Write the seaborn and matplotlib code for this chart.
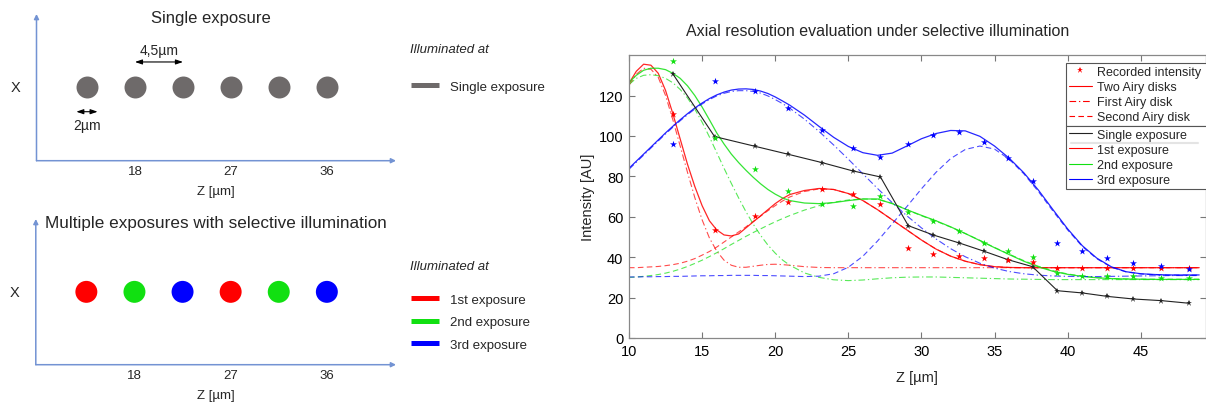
import matplotlib
matplotlib.use("Agg")
import matplotlib.pyplot as plt
from matplotlib.lines import Line2D
import seaborn as sns

# ---------------- data ----------------
# Left diagrams: bead positions along Z (µm) and which exposure illuminates each
bead_z = [13.5, 18, 22.5, 27, 31.5, 36]
bead_row = [0.5, 0.5, 0.5, 0.5, 0.5, 0.5]
bead_exposure = ["1st exposure", "2nd exposure", "3rd exposure",
                 "1st exposure", "2nd exposure", "3rd exposure"]
diagram_ticks = [18, 27, 36]
spacing_arrow = [18, 22.5]
size_arrow = [12.5, 14.5]

# Right chart: measured positions (µm)
meas_z = [13.0, 15.85, 18.6, 20.9, 23.2, 25.3, 27.2, 29.1, 30.8, 32.6,
          34.3, 35.9, 37.6, 39.3, 41.0, 42.7, 44.5, 46.4, 48.3]
single_exposure = [130.7, 99.7, 94.9, 90.9, 86.8, 82.7, 79.7, 55.6, 51.0, 47.0,
                   42.9, 38.8, 35.3, 23.4, 22.3, 20.6, 19.3, 18.5, 17.2]
rec_1st = [110.9, 53.6, 60.6, 67.5, 73.6, 71.5, 66.5, 44.6, 41.7, 40.6,
           39.6, 38.5, 37.8, 34.5, 34.5, 34.5, 34.5, 34.8, 34.8]
rec_2nd = [137.3, 98.8, 83.7, 72.8, 66.5, 65.2, 70.5, 62.5, 57.9, 53.0,
           47.0, 42.9, 39.9, 32.0, 30.5, 30.5, 30.9, 29.5, 29.5]
rec_3rd = [95.9, 127.0, 122.1, 113.9, 103.0, 93.9, 89.6, 95.9, 100.7, 101.8,
           96.9, 88.9, 77.7, 47.0, 42.9, 39.6, 37.0, 35.6, 34.2]

# Fitted curves sampled along Z
curve_z = [10, 10.5, 11, 11.5, 12, 12.5, 13, 13.5, 14, 14.5, 15, 15.5, 16, 16.5,
           17, 17.5, 18, 18.5, 19, 19.5, 20, 20.5, 21, 22, 23, 24, 25, 26, 27, 28,
           29, 30, 31, 32, 33, 34, 35, 36, 37, 38, 39, 40, 41, 42, 43, 44, 45, 46,
           47, 48, 49]
two_1st = [126, 132, 135.5, 135, 131, 122.5, 111, 98.5, 86, 75, 65.5, 58, 53.5, 51,
           50.5, 51.5, 54.5, 57.5, 60.5, 63.5, 66.5, 69, 71, 73, 74, 73.5, 71.5, 68,
           63.5, 58.5, 53.5, 48.5, 44, 40.5, 38, 36.3, 35.3, 34.9, 34.8, 34.8, 34.8,
           34.8, 34.8, 34.8, 34.8, 34.8, 34.8, 34.8, 34.8, 34.8, 34.8]
first_1st = [125, 130.5, 133.5, 133, 129, 120, 108, 95, 82, 69.5, 58.5, 49.5, 43,
             38.5, 36, 35, 35, 35.5, 36, 36.4, 36.5, 36.3, 36, 35.3, 34.9, 34.8,
             34.8, 34.8, 34.8, 34.8, 34.8, 34.8, 34.8, 34.8, 34.8, 34.8, 34.8, 34.8,
             34.8, 34.8, 34.8, 34.8, 34.8, 34.8, 34.8, 34.8, 34.8, 34.8, 34.8, 34.8,
             34.8]
second_1st = [34.8, 34.8, 35, 35.2, 35.4, 35.8, 36.3, 37, 38, 39.3, 41, 42.8, 45,
              47.5, 50, 52.5, 55, 57.7, 60.3, 63, 65.5, 67.8, 69.8, 72.5, 73.8, 73.5,
              71.5, 68, 63.5, 58.5, 53.5, 48.5, 44, 40.5, 38, 36.3, 35.3, 34.9, 34.8,
              34.8, 34.8, 34.8, 34.8, 34.8, 34.8, 34.8, 34.8, 34.8, 34.8, 34.8, 34.8]
two_2nd = [126.5, 130, 132.5, 133.5, 133.5, 132.8, 131, 128.5, 124.8, 120, 114.3,
           108, 101.5, 96, 91, 86.8, 83, 79.5, 76.3, 73.5, 71.2, 69.3, 68, 66.8,
           66.5, 67, 68, 68.8, 68.8, 66.5, 63.5, 60.7, 58, 55, 51.7, 48.2, 44.7,
           41.3, 38, 35.2, 33, 31.5, 30.5, 29.8, 29.4, 29.2, 29.1, 29, 29, 29, 29]
first_2nd = [125.5, 128.5, 130, 130.3, 129.8, 128.5, 126.3, 123, 118.8, 113.3,
             106.8, 99.5, 91.8, 84, 76.5, 69.3, 62.5, 56.3, 50.8, 46, 42, 38.6, 36,
             32.2, 30, 28.8, 28.4, 28.7, 29.3, 29.8, 30.1, 30.2, 30.2, 30, 29.8,
             29.6, 29.4, 29.2, 29.1, 29, 28.9, 28.9, 28.9, 28.9, 28.9, 28.9, 28.9,
             28.9, 28.9, 28.9, 28.9]
second_2nd = [30, 30.2, 30.5, 30.9, 31.4, 32.1, 33, 34.1, 35.4, 36.9, 38.5, 40.3,
              42.2, 44.2, 46.3, 48.3, 50.3, 52.2, 54, 55.8, 57.5, 59.1, 60.6, 63.3,
              65.5, 67.2, 68.3, 68.8, 68.6, 66.7, 63.5, 60.5, 57.8, 54.9, 51.7, 48.3,
              44.8, 41.5, 38.3, 35.5, 33.3, 31.7, 30.6, 29.9, 29.4, 29.2, 29.1, 29.1,
              29.1, 29.1, 29.1]
two_3rd = [84, 87.5, 91, 94.5, 98, 101.5, 104.8, 108, 111, 113.8, 116.3, 118.5,
           120.3, 121.7, 122.7, 123.2, 123.3, 123, 122.2, 121, 119.3, 117.3, 115.2,
           110.3, 104.7, 99.3, 94.8, 91.7, 90.4, 91.5, 95, 98.6, 101.2, 102.7,
           102.5, 99.8, 95, 89, 81.8, 73.2, 63.5, 54, 45.7, 39.5, 35.2, 32.8, 31.8,
           31.4, 31.2, 31.2, 31.2]
first_3rd = [83.5, 87, 90.5, 94, 97.5, 101, 104.3, 107.5, 110.5, 113.3, 115.8, 118,
             119.8, 121.1, 122, 122.4, 122.4, 122, 121.2, 119.8, 118, 116, 113.7,
             108.3, 102.2, 95.5, 88.5, 81.2, 74, 67, 60.5, 54.5, 49, 44.2, 40.2, 37,
             34.6, 32.9, 31.8, 31.1, 30.7, 30.5, 30.4, 30.4, 30.5, 30.6, 30.7, 30.8,
             30.9, 30.9, 30.9]
second_3rd = [30.2, 30.2, 30.3, 30.3, 30.4, 30.4, 30.5, 30.5, 30.6, 30.7, 30.8,
              30.8, 30.9, 30.9, 31, 31, 31, 31, 30.9, 30.9, 30.8, 30.7, 30.6, 30.4,
              30.6, 31.8, 35, 40.5, 48, 56.5, 65, 73.8, 82, 88.8, 93.3, 95, 93.5,
              88.5, 81.3, 72.5, 62.8, 53.5, 45.3, 39.2, 35, 32.7, 31.7, 31.3, 31.1,
              31.1, 31.1]

# ---------------- style ----------------
sns.set_theme(style="white")
plt.rcParams["font.family"] = ["Liberation Sans", "DejaVu Sans"]

W, H = 1206, 406
RED, GREEN, BLUE = "#ff0000", "#11e011", "#0000ff"
GRAY = "#6e6a6a"
ARROW = "#7393d3"
exp_palette = {"1st exposure": RED, "2nd exposure": GREEN, "3rd exposure": BLUE}

fig = plt.figure(figsize=(W / 100, H / 100), dpi=100)


def fx(px):
    return px / W


def fy(py):
    return 1 - py / H


def diagram(ax_rect, title, title_xy, title_ha, title_size, colors_hue,
            legend_entries, legend_title_y, legend_center_y, label_spacing):
    ax = fig.add_axes(ax_rect)
    ax.set_xlim(8.77, 42.47)
    ax.set_ylim(0, 1)
    for s in ax.spines.values():
        s.set_visible(False)
    ax.set_facecolor("none")
    ax.annotate("", xy=(1, 0), xytext=(0, 0), xycoords="axes fraction",
                arrowprops=dict(arrowstyle="-|>", color=ARROW, lw=1.1,
                                mutation_scale=7, shrinkA=0, shrinkB=0))
    ax.annotate("", xy=(0, 1), xytext=(0, 0), xycoords="axes fraction",
                arrowprops=dict(arrowstyle="-|>", color=ARROW, lw=1.1,
                                mutation_scale=7, shrinkA=0, shrinkB=0))
    if colors_hue is None:
        sns.scatterplot(x=bead_z, y=bead_row, color=GRAY, s=250, linewidth=0,
                        ax=ax, legend=False)
    else:
        sns.scatterplot(x=bead_z, y=bead_row, hue=colors_hue, palette=exp_palette,
                        s=250, linewidth=0, ax=ax, legend=False)
    ax.set_xticks(diagram_ticks)
    ax.set_xticklabels([str(t) for t in diagram_ticks], fontsize=9.5)
    ax.set_yticks([])
    ax.tick_params(axis="x", length=0, pad=3)
    ax.set_xlabel("Z [µm]", fontsize=9.5, labelpad=6)
    ax.set_ylabel("X", fontsize=10.5, rotation=0, va="center", ha="center")
    ax.yaxis.set_label_coords(-21 / (ax_rect[2] * W), 0.5)
    fig.text(title_xy[0], title_xy[1], title, fontsize=title_size, ha=title_ha,
             va="center")
    fig.text(fx(410), fy(legend_title_y), "Illuminated at", fontsize=9.5,
             style="italic", va="center", ha="left")
    handles = [Line2D([], [], color=c, lw=3.6, solid_capstyle="butt")
               for _, c in legend_entries]
    labels = [l for l, _ in legend_entries]
    ax.legend(handles, labels, loc="center left",
              bbox_to_anchor=(fx(411.5), fy(legend_center_y)),
              bbox_transform=fig.transFigure, frameon=False, fontsize=9.5,
              handlelength=2.05, handletextpad=0.85, borderpad=0,
              borderaxespad=0, labelspacing=label_spacing)
    return ax


ax_top = diagram([fx(36.5), fy(161.7), fx(396 - 36.5), (161.7 - 15) / H],
                 "Single exposure", (fx(211), fy(18)), "center", 12, None,
                 [("Single exposure", GRAY)], 50, 87.7, 0.8)
# dimension annotations on the single-exposure diagram
arrow_kw = dict(arrowstyle="<|-|>,head_length=0.35,head_width=0.12", color="black",
                lw=0.8, shrinkA=0, shrinkB=0)
ax_top.annotate("", xy=(spacing_arrow[1], 0.673), xytext=(spacing_arrow[0], 0.673),
                arrowprops=arrow_kw)
ax_top.text(sum(spacing_arrow) / 2, 0.755, "4,5µm", ha="center", va="center",
            fontsize=10)
ax_top.annotate("", xy=(size_arrow[1], 0.334), xytext=(size_arrow[0], 0.334),
                arrowprops=arrow_kw)
ax_top.text(sum(size_arrow) / 2, 0.243, "2µm", ha="center", va="center",
            fontsize=10)

diagram([fx(35.8), fy(365.7), fx(396 - 35.8), (365.7 - 220) / H],
        "Multiple exposures with selective illumination", (fx(45), fy(224)), "left",
        12.35, bead_exposure,
        [("1st exposure", RED), ("2nd exposure", GREEN), ("3rd exposure", BLUE)],
        266.7, 323, 0.78)

# ---------------- right chart ----------------
ax = fig.add_axes([fx(629), fy(339), fx(576.5), 283.3 / H])
ax.set_xlim(10, 49.43)
ax.set_ylim(0, 140.2)

DASH = (0, (5, 3))
DASHDOT = (0, (6, 2.5, 1.2, 2.5))
curve_sets = [
    (RED, two_1st, first_1st, second_1st),
    (GREEN, two_2nd, first_2nd, second_2nd),
    (BLUE, two_3rd, first_3rd, second_3rd),
]
for color, two, first, second in curve_sets:
    sns.lineplot(x=curve_z, y=first, color=color, lw=0.8, alpha=0.7,
                 linestyle=DASHDOT, ax=ax, estimator=None, sort=False)
    sns.lineplot(x=curve_z, y=second, color=color, lw=0.8, alpha=0.7,
                 linestyle=DASH, ax=ax, estimator=None, sort=False)
    sns.lineplot(x=curve_z, y=two, color=color, lw=0.9, alpha=0.85, ax=ax,
                 estimator=None, sort=False)

sns.lineplot(x=meas_z, y=single_exposure, color="#222222", lw=0.8, marker="*",
             markersize=5, markeredgewidth=0, ax=ax, estimator=None, sort=False)
for color, rec in [(RED, rec_1st), (GREEN, rec_2nd), (BLUE, rec_3rd)]:
    sns.scatterplot(x=meas_z, y=rec, color=color, marker="*", s=28, linewidth=0,
                    ax=ax, legend=False, zorder=4)

ax.set_xticks([10, 15, 20, 25, 30, 35, 40, 45])
ax.set_yticks([0, 20, 40, 60, 80, 100, 120])
ax.tick_params(direction="in", length=4, width=0.8, color="#777777",
               bottom=True, top=True, left=True, right=True, labelsize=10.5,
               labelcolor="black", pad=4)
for s in ax.spines.values():
    s.set_color("#888888")
    s.set_linewidth(0.9)
ax.set_xlabel("Z [µm]", fontsize=10.5, labelpad=9)
ax.set_ylabel("Intensity [AU]", fontsize=10.5, labelpad=3)
fig.text(fx(878), fy(32), "Axial resolution evaluation under selective illumination",
         fontsize=11.5, ha="center", va="center")

# legends (two stacked boxes sharing the separator edge)
h1 = [Line2D([], [], color=RED, marker="*", linestyle="none", markersize=5,
             markeredgewidth=0),
      Line2D([], [], color=RED, lw=0.8),
      Line2D([], [], color=RED, lw=0.8, linestyle=DASHDOT),
      Line2D([], [], color=RED, lw=0.8, linestyle=DASH)]
l1 = ["Recorded intensity", "Two Airy disks", "First Airy disk", "Second Airy disk"]
h2 = [Line2D([], [], color="#222222", lw=0.8),
      Line2D([], [], color=RED, lw=0.8),
      Line2D([], [], color=GREEN, lw=0.8),
      Line2D([], [], color=BLUE, lw=0.8)]
l2 = ["Single exposure", "1st exposure", "2nd exposure", "3rd exposure"]
common = dict(mode="expand", bbox_transform=fig.transFigure,
              fontsize=9, handlelength=1.9, handletextpad=0.4, borderpad=0.2,
              borderaxespad=0, labelspacing=0.26, fancybox=False, framealpha=1,
              edgecolor="#555555")
leg1 = ax.legend(h1, l1, loc="lower left",
                 bbox_to_anchor=(fx(1066), fy(127), fx(160), 0), **common)
leg1.get_frame().set_linewidth(0.8)
ax.add_artist(leg1)
leg2 = ax.legend(h2, l2, loc="upper left",
                 bbox_to_anchor=(fx(1066), fy(127), fx(160), 0), **common)
leg2.get_frame().set_linewidth(0.8)
# faint separator under "Single exposure" as in the original legend
fig.add_artist(Line2D([fx(1071), fx(1198)], [fy(143.5), fy(143.5)], color="#e4e4e4",
                      lw=1.5, zorder=10))

fig.savefig("out.png", dpi=100)
